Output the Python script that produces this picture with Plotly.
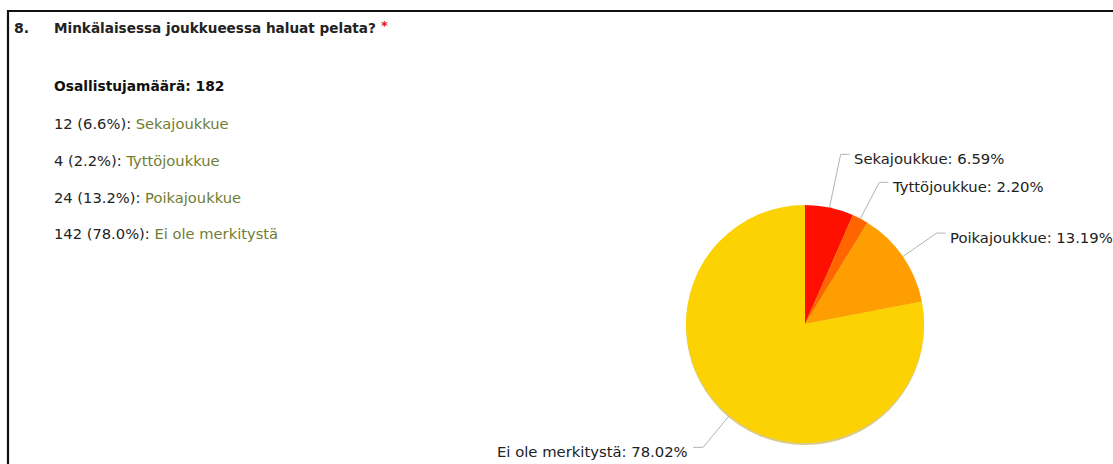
import math
import plotly.graph_objects as go

# ---- data ----
question_no = "8."
question = "Minkälaisessa joukkueessa haluat pelata?"
total_label = "Osallistujamäärä"
categories = ["Sekajoukkue", "Tyttöjoukkue", "Poikajoukkue", "Ei ole merkitystä"]
counts = [12, 4, 24, 142]
colors = ["#FF0F00", "#FF6600", "#FF9E01", "#FCD202"]

W, H = 1113, 464
total = sum(counts)

# pie geometry (pixels)
cx, cy, R = 805, 324, 119
label_r = 160
FONT = "DejaVu Sans"

fig = go.Figure()

# pixel-space cartesian axes for lines/annotations
fig.update_xaxes(range=[0, W], visible=False, fixedrange=True, domain=[0, 1])
fig.update_yaxes(range=[H, 0], visible=False, fixedrange=True, domain=[0, 1])

fig.add_trace(go.Pie(
    labels=categories, values=counts, sort=False, direction="clockwise", rotation=0,
    marker=dict(colors=colors, line=dict(width=0)),
    textinfo="none", showlegend=False,
    domain=dict(x=[(cx - R) / W, (cx + R) / W], y=[(H - cy - R) / H, (H - cy + R) / H]),
))

# leader lines + labels computed from data
cum = 0
items = []
for cat, v in zip(categories, counts):
    theta = 2 * math.pi * (cum + v / 2) / total
    cum += v
    s, c = math.sin(theta), math.cos(theta)
    ex, ey = cx + R * s, cy - R * c
    by = cy - label_r * c
    items.append(dict(cat=cat, v=v, s=s, c=c, ex=ex, ey=ey, by=by, right=s >= 0))

# simple collision avoidance per side
for side in (True, False):
    grp = sorted([it for it in items if it["right"] == side], key=lambda d: d["by"])
    for i in range(len(grp) - 2, -1, -1):
        if grp[i + 1]["by"] - grp[i]["by"] < 28:
            grp[i]["by"] = grp[i + 1]["by"] - 28

for it in items:
    by = it["by"]
    t = it["s"] / it["c"] if abs(it["c"]) > 1e-6 else 0
    bx = cx + (cy - by) * t
    hx = bx + (9 if it["right"] else -10)
    fig.add_trace(go.Scatter(
        x=[it["ex"], bx, hx], y=[it["ey"], by, by], mode="lines",
        line=dict(color="#b4b4b4", width=1), hoverinfo="skip", showlegend=False))
    pct = 100 * it["v"] / total
    fig.add_annotation(
        x=hx + (2 if it["right"] else -3), y=by + 4, xref="x", yref="y",
        text=f"{it['cat']}: {pct:.2f}%", showarrow=False,
        xanchor="left" if it["right"] else "right", yanchor="middle",
        font=dict(family=FONT, size=14.8, color="#222222"))

# shadow under pie
fig.add_shape(type="circle", xref="x", yref="y", x0=cx - R, x1=cx + R, y0=cy - R + 2, y1=cy + R + 2,
              fillcolor="rgba(170,140,0,0.45)", line=dict(width=0), layer="below")

# frame
fig.add_shape(type="line", xref="x", yref="y", x0=8, x1=W, y0=11, y1=11,
              line=dict(color="#111111", width=2.2))
fig.add_shape(type="line", xref="x", yref="y", x0=8, x1=8, y0=10, y1=H,
              line=dict(color="#111111", width=2.2))

# header text
fig.add_annotation(x=12, y=28, xref="x", yref="y", text=f"<b>{question_no}</b>", showarrow=False,
                   xanchor="left", yanchor="middle", font=dict(family=FONT, size=14, color="#222222"))
fig.add_annotation(x=52, y=28, xref="x", yref="y", text=f"<b>{question}</b>",
                   showarrow=False, xanchor="left", yanchor="middle",
                   font=dict(family=FONT, size=13.6, color="#222222"))
fig.add_annotation(x=379, y=25, xref="x", yref="y", text="<b>*</b>",
                   showarrow=False, xanchor="left", yanchor="middle",
                   font=dict(family=FONT, size=13, color="#e01010"))
fig.add_annotation(x=52, y=86, xref="x", yref="y", text=f"<b>{total_label}: {total}</b>", showarrow=False,
                   xanchor="left", yanchor="middle", font=dict(family=FONT, size=13.8, color="#111111"))

row_y = [123, 160, 197, 233]
for cat, v, yy in zip(categories, counts, row_y):
    fig.add_annotation(
        x=52, y=yy, xref="x", yref="y",
        text=f"{v} ({100 * v / total:.1f}%): <span style='color:#6f7d33'>{cat}</span>",
        showarrow=False, xanchor="left", yanchor="middle",
        font=dict(family=FONT, size=14.7, color="#222222"))

fig.update_layout(
    width=W, height=H, margin=dict(l=0, r=0, t=0, b=0),
    paper_bgcolor="white", plot_bgcolor="white", showlegend=False,
)

fig.write_html("out.html", config={"displayModeBar": False})
